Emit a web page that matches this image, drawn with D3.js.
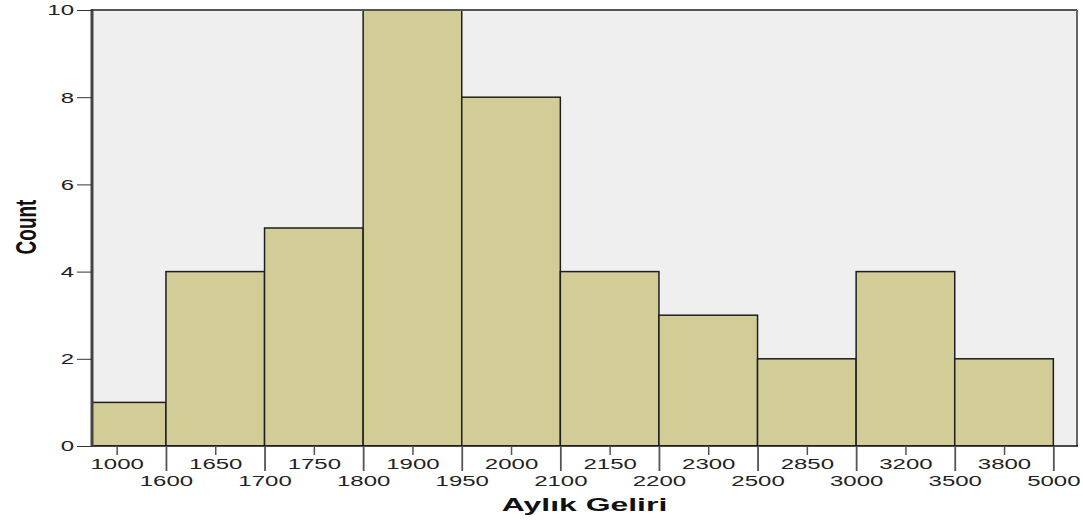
<!DOCTYPE html>
<html>
<head>
<meta charset="utf-8">
<script src="https://cdn.jsdelivr.net/npm/d3@7"></script>
<style>
  body { margin: 0; background: #fff; }
  text { font-family: "Liberation Sans", Arial, sans-serif; }
</style>
</head>
<body>
<div id="chart"></div>
<script>
// Histogram data
var binCenters = ["1000", "1650", "1750", "1900", "2000", "2150", "2300", "2850", "3200", "3800"];
var binEdges = ["1600", "1700", "1800", "1950", "2100", "2200", "2500", "3000", "3500", "5000"];
var counts = [1, 4, 5, 10, 8, 4, 3, 2, 4, 2];
var yTicks = [0, 2, 4, 6, 8, 10];

var width = 1083, height = 520;
var plot = { left: 92, right: 1077, top: 10, bottom: 446 };
var stretch = 1.6; // picture is stretched sideways

var svg = d3.select('#chart')
    .append('svg')
    .attr('width', width)
    .attr('height', height);

// bins are indexed 0..10, first bin partly hidden behind the y axis
var x = d3.scaleLinear()
    .domain([0.25, 10.24])
    .range([plot.left, plot.right]);

var y = d3.scaleLinear()
    .domain([0, 10])
    .range([plot.bottom, plot.top]);

svg.append('defs').append('clipPath')
    .attr('id', 'clip')
    .append('rect')
    .attr('x', plot.left)
    .attr('y', plot.top)
    .attr('width', plot.right - plot.left)
    .attr('height', plot.bottom - plot.top);

// plot background
svg.append('rect')
    .attr('x', plot.left)
    .attr('y', plot.top)
    .attr('width', plot.right - plot.left)
    .attr('height', plot.bottom - plot.top)
    .attr('fill', '#efefef');

// bars
svg.append('g')
    .attr('clip-path', 'url(#clip)')
    .selectAll('rect')
    .data(counts)
    .enter().append('rect')
    .attr('x', function(d, i) { return x(i); })
    .attr('y', function(d) { return y(d); })
    .attr('width', function(d, i) { return x(i + 1) - x(i); })
    .attr('height', function(d) { return y(0) - y(d); })
    .attr('fill', '#d2cd97')
    .attr('stroke', '#1e1e1e')
    .attr('stroke-width', 1.5);

// frame
svg.append('line')
    .attr('x1', plot.left).attr('x2', plot.right)
    .attr('y1', plot.top).attr('y2', plot.top)
    .attr('stroke', '#555').attr('stroke-width', 2);
svg.append('line')
    .attr('x1', plot.right).attr('x2', plot.right)
    .attr('y1', plot.top).attr('y2', plot.bottom)
    .attr('stroke', '#666').attr('stroke-width', 2);
svg.append('line')
    .attr('x1', plot.left).attr('x2', plot.right + 1)
    .attr('y1', plot.bottom).attr('y2', plot.bottom)
    .attr('stroke', '#111').attr('stroke-width', 1.5);
svg.append('line')
    .attr('x1', plot.left).attr('x2', plot.left)
    .attr('y1', plot.top - 1).attr('y2', plot.bottom + 1)
    .attr('stroke', '#444').attr('stroke-width', 3);

// y axis
var yAxis = svg.append('g')
    .attr('transform', 'translate(' + plot.left + ',0)')
    .call(d3.axisLeft(y).tickValues(yTicks).tickSize(15).tickPadding(3));
yAxis.select('.domain').remove();
yAxis.selectAll('line').attr('stroke', '#333');
yAxis.selectAll('text')
    .attr('x', 0)
    .attr('transform', 'translate(-18,0) scale(' + stretch + ',1)')
    .attr('font-size', 15)
    .attr('fill', '#222');

// x axis, bin centres (upper row)
var xMid = svg.append('g')
    .attr('transform', 'translate(0,' + plot.bottom + ')')
    .call(d3.axisBottom(x)
        .tickValues(d3.range(binCenters.length).map(function(i) { return i + 0.5; }))
        .tickFormat(function(d) { return binCenters[Math.floor(d)]; })
        .tickSize(9).tickPadding(3));
xMid.select('.domain').remove();
xMid.selectAll('line').attr('stroke', '#555').attr('stroke-width', 1.5);

// x axis, bin edges (lower row)
var xEdge = svg.append('g')
    .attr('transform', 'translate(0,' + plot.bottom + ')')
    .call(d3.axisBottom(x)
        .tickValues(d3.range(1, binEdges.length + 1))
        .tickFormat(function(d) { return binEdges[d - 1]; })
        .tickSize(25).tickPadding(4));
xEdge.select('.domain').remove();
xEdge.selectAll('line').attr('stroke', '#555').attr('stroke-width', 1.8);

svg.selectAll('.tick text').filter(function() { return this.parentNode.parentNode !== yAxis.node(); })
    .each(function() {
        var t = d3.select(this);
        var yy = +t.attr('y');
        t.attr('y', 0)
            .attr('transform', 'translate(0,' + yy + ') scale(' + stretch + ',1)')
            .attr('font-size', 15)
            .attr('fill', '#222');
    });

// axis titles
svg.append('text')
    .attr('transform', 'translate(' + ((plot.left + plot.right) / 2) + ',511) scale(1.68,1)')
    .attr('text-anchor', 'middle')
    .attr('font-size', 19)
    .attr('font-weight', 'bold')
    .attr('fill', '#111')
    .text('Aylık Geliri');

svg.append('text')
    .attr('transform', 'translate(36,227) scale(' + stretch + ',1) rotate(-90)')
    .attr('text-anchor', 'middle')
    .attr('font-size', 19)
    .attr('font-weight', 'bold')
    .attr('fill', '#111')
    .text('Count');
</script>
</body>
</html>
